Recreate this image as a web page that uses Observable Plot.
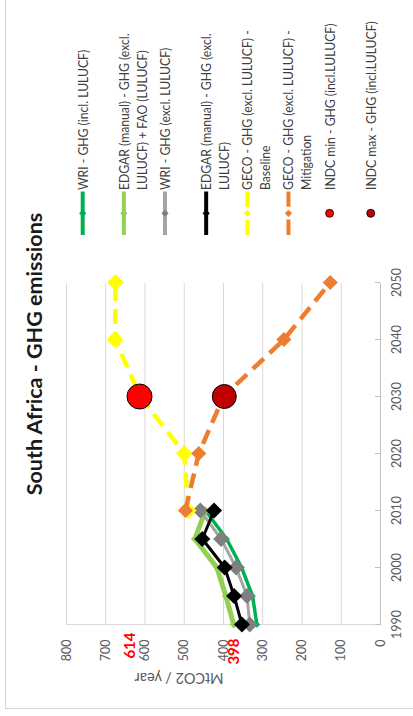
<!DOCTYPE html>
<html><head><meta charset="utf-8">
<script src="https://cdn.jsdelivr.net/npm/d3@7"></script>
<script src="https://cdn.jsdelivr.net/npm/@observablehq/plot@0.6"></script>
<style>
html,body{margin:0;padding:0;overflow:hidden;background:#fff;width:413px;height:716px}
#wrap{position:absolute;left:0;top:0;width:716px;height:413px;transform-origin:0 0;transform:translate(0px,716px) rotate(-90deg);overflow:hidden;background:#fff;font-family:Lato,"Open Sans",sans-serif}
#frame{position:absolute;left:7px;top:5px;width:760px;height:460px;border:1.5px solid #d4d4d4;box-sizing:border-box}
#chart{position:absolute;left:0;top:0}
#overlay{position:absolute;left:0;top:0}
</style></head><body>
<div id="wrap"><div id="frame"></div><div id="chart"></div><svg id="overlay" width="716" height="413"></svg></div>
<script>
// ---- data ----
const titleText = "South Africa - GHG emissions";
const axisTitle = "MtCO2 / year";
const yearTicks = [1990, 2000, 2010, 2020, 2030, 2040, 2050];
const valueTicks = [0, 100, 200, 300, 400, 500, 600, 700, 800];

const histYears = [1990, 1995, 2000, 2005, 2010];
const wriIncl = [315, 326, 354, 392, 446];
const edgarFao = [374, 394, 417, 473, 446];
const wriExcl = [333, 340, 368, 406, 459];
const edgarExcl = [353, 373, 397, 454, 424];

const gecoYears = [2010, 2020, 2030, 2040, 2050];
const gecoBaseline = [490, 500, 612, 676, 675];
const gecoMitigation = [497, 463, 400, 246, 128];

const indcYear = 2030;
const indcMin = 614;
const indcMax = 398;

const seriesNames = [
  ["WRI - GHG (incl. LULUCF)"],
  ["EDGAR (manual) - GHG (excl.", "LULUCF) + FAO (LULUCF)"],
  ["WRI - GHG (excl. LULUCF)"],
  ["EDGAR (manual) - GHG (excl.", "LULUCF)"],
  ["GECO - GHG (excl. LULUCF) -", "Baseline"],
  ["GECO - GHG (excl. LULUCF) -", "Mitigation"],
  ["INDC min - GHG (incl.LULUCF)"],
  ["INDC max - GHG (incl.LULUCF)"]
];
const lineColors = ["#00B050", "#92D050", "#A5A5A5", "#000000", "#FFFF00", "#ED7D31", "#FF0000", "#C00000"];
const markerColors = ["#00B050", "#92D050", "#7F7F7F", "#000000", "#FFFF00", "#ED7D31", "#FF0000", "#C00000"];

// ---- tables ----
const rows = (years, vals) => years.map((year, i) => ({year, value: vals[i]}));
const tWriIncl = rows(histYears, wriIncl);
const tEdgarFao = rows(histYears, edgarFao);
const tWriExcl = rows(histYears, wriExcl);
const tEdgarExcl = rows(histYears, edgarExcl);
const tBase = rows(gecoYears, gecoBaseline);
const tMit = rows(gecoYears, gecoMitigation);
const tMin = [{year: indcYear, value: indcMin}];
const tMax = [{year: indcYear, value: indcMax}];

const dash = "15,8";
const plot = Plot.plot({
  width: 716, height: 413,
  marginLeft: 91, marginRight: 283, marginTop: 66, marginBottom: 33,
  style: {fontFamily: "Lato, sans-serif", fontSize: "12.5px", color: "#595959", background: "transparent", overflow: "visible"},
  x: {domain: [1990, 2050]},
  y: {domain: [0, 800]},
  marks: [
    Plot.gridY(valueTicks.filter(d => d > 0), {stroke: "#d9d9d9", strokeOpacity: 1}),
    Plot.ruleX([1990], {stroke: "#d9d9d9"}),
    Plot.ruleY([0], {stroke: "#bfbfbf"}),
    Plot.axisY({ticks: valueTicks, tickSize: 0, tickPadding: 15, label: null}),
    Plot.axisX({ticks: yearTicks, tickFormat: d => String(d), tickSize: 5, tickPadding: 12, dy: -5, stroke: "#bfbfbf", label: null}),
    Plot.text([axisTitle], {frameAnchor: "left", dx: -53, rotate: -90, fontSize: 14.5, fill: "#595959"}),
    Plot.text([indcMin], {y: d => d, text: d => String(d), frameAnchor: "left", dx: -8, dy: -9, textAnchor: "end", fill: "#FF0000", fontWeight: "bold", fontSize: 15}),
    Plot.text([indcMax], {y: d => d, text: d => String(d), frameAnchor: "left", dx: -14, dy: 10, textAnchor: "end", fill: "#FF0000", fontWeight: "bold", fontSize: 15}),

    Plot.line(tWriIncl, {x: "year", y: "value", stroke: lineColors[0], strokeWidth: 3.5}),
    Plot.dot(tWriIncl, {x: "year", y: "value", symbol: "diamond2", r: 3, fill: markerColors[0]}),
    Plot.line(tEdgarFao, {x: "year", y: "value", stroke: lineColors[1], strokeWidth: 5}),
    Plot.dot(tEdgarFao, {x: "year", y: "value", symbol: "diamond2", r: 3.5, fill: markerColors[1]}),
    Plot.line(tWriExcl, {x: "year", y: "value", stroke: lineColors[2], strokeWidth: 3}),
    Plot.dot(tWriExcl, {x: "year", y: "value", symbol: "diamond2", r: 7.2, fill: markerColors[2]}),
    Plot.line(tEdgarExcl, {x: "year", y: "value", stroke: lineColors[3], strokeWidth: 3}),
    Plot.dot(tEdgarExcl, {x: "year", y: "value", symbol: "diamond2", r: 7.2, fill: markerColors[3]}),
    Plot.line(tBase, {x: "year", y: "value", stroke: lineColors[4], strokeWidth: 4.5, strokeDasharray: dash, strokeLinecap: "butt"}),
    Plot.dot(tBase, {x: "year", y: "value", symbol: "diamond2", r: 7.6, fill: markerColors[4]}),
    Plot.line(tMit, {x: "year", y: "value", stroke: lineColors[5], strokeWidth: 4.5, strokeDasharray: dash, strokeLinecap: "butt"}),
    Plot.dot(tMit, {x: "year", y: "value", symbol: "diamond2", r: 6.8, fill: markerColors[5]}),
    Plot.dot(tMin, {x: "year", y: "value", r: 12.5, fill: markerColors[6], stroke: "#000", strokeWidth: 1}),
    Plot.dot(tMax, {x: "year", y: "value", r: 12, fill: markerColors[7], stroke: "#000", strokeWidth: 1})
  ]
});
document.getElementById("chart").appendChild(plot);

// ---- title & legend ----
const svg = d3.select("#overlay");
svg.append("text").attr("x", 362).attr("y", 42).attr("text-anchor", "middle")
  .attr("font-family", "Lato, sans-serif").attr("font-weight", 700).attr("font-size", 21.5)
  .attr("fill", "#1a1a1a").text(titleText);

const legendTop = 82.7, legendStep = 41.15;
seriesNames.forEach((lines, i) => {
  const cy = legendTop + legendStep * i;
  const g = svg.append("g");
  if (i < 6) {
    const ln = g.append("line").attr("x1", 481).attr("x2", 524.5).attr("y1", cy).attr("y2", cy)
      .attr("stroke", lineColors[i]).attr("stroke-width", 4);
    if (i >= 4) ln.attr("stroke-dasharray", "15.5,12.8");
    g.append("path").attr("d", d3.symbol(d3.symbolDiamond2, 34)())
      .attr("transform", `translate(502.7,${cy})`).attr("fill", markerColors[i]);
  } else {
    g.append("circle").attr("cx", 502.7).attr("cy", cy).attr("r", 4)
      .attr("fill", markerColors[i]).attr("stroke", "#000").attr("stroke-width", 0.8);
  }
  lines.forEach((t, j) => {
    g.append("text").attr("transform", `translate(526,${cy + 5 + 17.7 * j}) scale(0.87,1)`)
      .attr("font-family", "Lato, sans-serif").attr("font-size", 14).attr("fill", "#404040").text(t);
  });
});
</script>
</body></html>
